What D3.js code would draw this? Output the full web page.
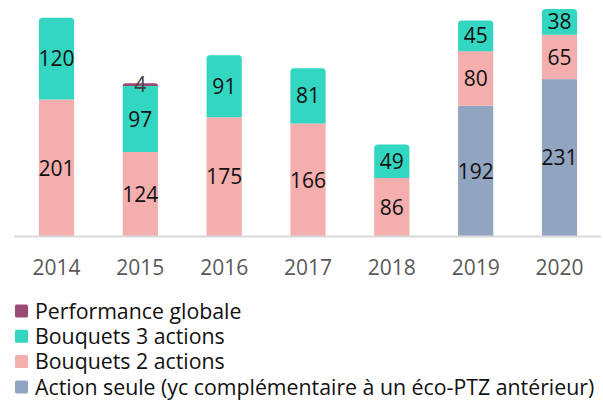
<!DOCTYPE html>
<html>
<head>
<meta charset="utf-8">
<script src="https://cdn.jsdelivr.net/npm/d3@7"></script>
<style>
  body { margin: 0; background: #fff; }
  svg { font-family: "Open Sans", sans-serif; }
</style>
</head>
<body>
<div id="chart"></div>
<script>
const years = ['2014', '2015', '2016', '2017', '2018', '2019', '2020'];
const actionSeule = [0, 0, 0, 0, 0, 192, 231];
const bouquets2 = [201, 124, 175, 166, 86, 80, 65];
const bouquets3 = [120, 97, 91, 81, 49, 45, 38];
const perfGlobale = [0, 4, 0, 0, 0, 0, 0];

const seriesNames = ['Action seule (yc complémentaire à un éco-PTZ antérieur)', 'Bouquets 2 actions', 'Bouquets 3 actions', 'Performance globale'];
const seriesKeys = ['seule', 'b2', 'b3', 'perf'];
const colors = { seule: '#91a4c0', b2: '#f4aeae', b3: '#33d6c0', perf: '#9b4a75' };

const width = 603, height = 400;
const baseline = 236.5;

const table = years.map((y, i) => ({
  year: y, seule: actionSeule[i], b2: bouquets2[i], b3: bouquets3[i], perf: perfGlobale[i]
}));

const svg = d3.select('#chart').append('svg')
  .attr('width', width)
  .attr('height', height);

const x = d3.scaleBand()
  .domain(years)
  .range([14.6, 601.4])
  .paddingInner(0.58)
  .paddingOuter(0.29);

const y = d3.scaleLinear()
  .domain([0, 321])
  .range([baseline, 17.8]);

const stacked = d3.stack().keys(seriesKeys)(table);

// top segment per year, for rounded corners
const topKey = table.map(d => {
  let k = null;
  seriesKeys.forEach(s => { if (d[s] > 0) k = s; });
  return k;
});

function segPath(x0, y0, w, h, r) {
  // rect with rounded top corners
  r = Math.min(r, h, w / 2);
  return `M${x0},${y0 + h}V${y0 + r}Q${x0},${y0} ${x0 + r},${y0}H${x0 + w - r}Q${x0 + w},${y0} ${x0 + w},${y0 + r}V${y0 + h}Z`;
}

stacked.forEach(layer => {
  const g = svg.append('g').attr('fill', colors[layer.key]);
  layer.forEach((d, i) => {
    const v = d[1] - d[0];
    if (v <= 0) return;
    const x0 = x(years[i]);
    const y0 = y(d[1]);
    const h = y(d[0]) - y(d[1]);
    if (topKey[i] === layer.key) {
      g.append('path').attr('d', segPath(x0, y0, x.bandwidth(), h, 3.5));
    } else {
      g.append('rect')
        .attr('x', x0).attr('y', y0)
        .attr('width', x.bandwidth()).attr('height', h);
    }
  });
});

// value labels
stacked.forEach(layer => {
  layer.forEach((d, i) => {
    const v = d[1] - d[0];
    if (v <= 0) return;
    svg.append('text')
      .attr('x', x(years[i]) + x.bandwidth() / 2)
      .attr('y', (y(d[0]) + y(d[1])) / 2)
      .attr('dy', '0.36em')
      .attr('text-anchor', 'middle')
      .attr('font-size', 21)
      .attr('fill', layer.key === 'perf' ? '#404040' : '#111')
      .text(v);
  });
});

// x axis
const xAxis = svg.append('g')
  .attr('transform', `translate(0,${baseline})`)
  .call(d3.axisBottom(x).tickSize(0).tickPadding(23));
xAxis.select('.domain').attr('stroke', '#d9d9d9').attr('stroke-width', 2)
  .attr('d', 'M14,0H601');
xAxis.selectAll('text')
  .attr('font-family', '"Open Sans", sans-serif')
  .attr('font-size', 21)
  .attr('dy', '0.36em')
  .attr('y', 31)
  .attr('fill', '#595959');

// legend
const legendOrder = ['perf', 'b3', 'b2', 'seule'];
const legend = svg.append('g').attr('transform', 'translate(15,311)');
legendOrder.forEach((k, i) => {
  const row = legend.append('g').attr('transform', `translate(0,${i * 25.3})`);
  row.append('rect')
    .attr('x', 0).attr('y', -6.5).attr('width', 13).attr('height', 13)
    .attr('rx', 1.5)
    .attr('fill', colors[k]);
  row.append('text')
    .attr('x', 20).attr('y', 0).attr('dy', '0.36em')
    .attr('font-size', 21.3)
    .attr('fill', '#111')
    .text(seriesNames[seriesKeys.indexOf(k)]);
});
</script>
</body>
</html>
